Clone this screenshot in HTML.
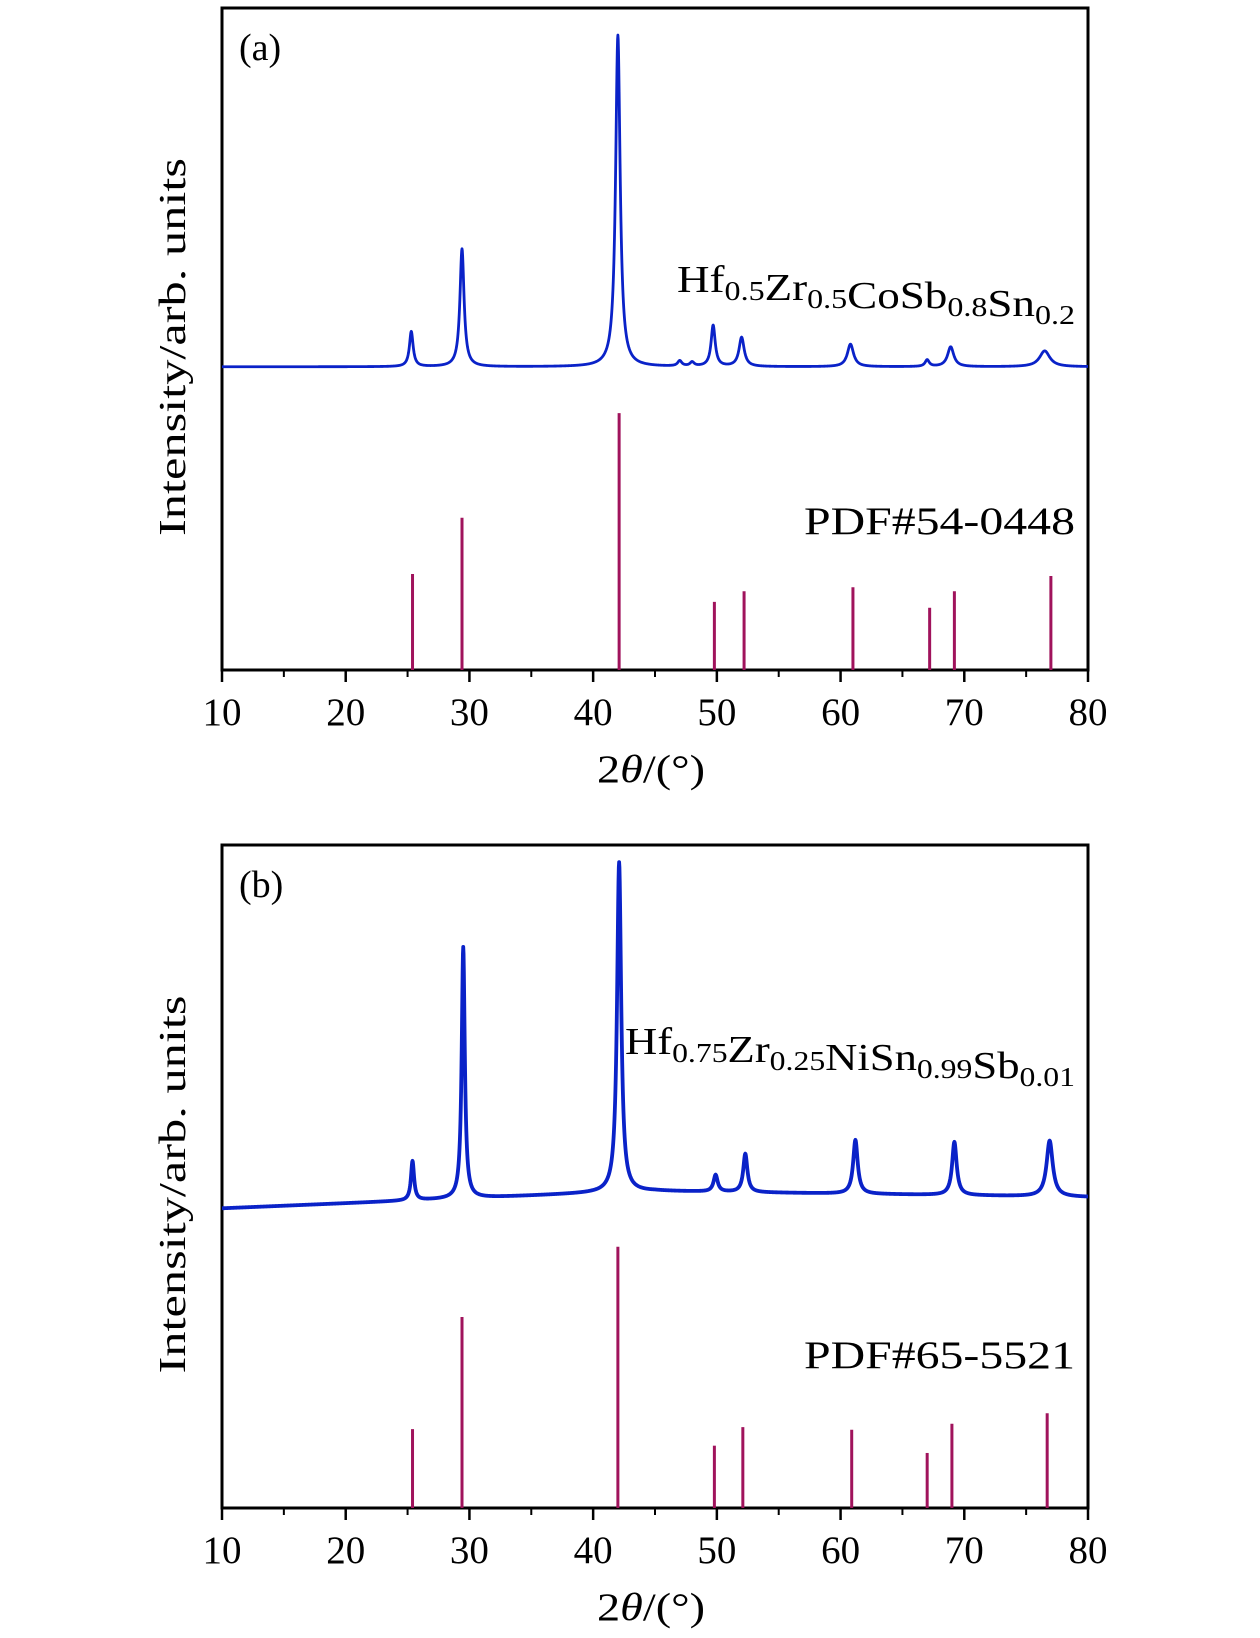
<!DOCTYPE html>
<html><head><meta charset="utf-8"><style>
body{margin:0;background:#fff}
svg{display:block}
text{font-family:"Liberation Serif",serif;fill:#000}
</style></head><body>
<svg id="chart" width="1260" height="1638" viewBox="0 0 1260 1638" xmlns="http://www.w3.org/2000/svg"></svg>
<script>
// Panel (a) data
const peakPosA = [25.3, 29.4, 42.0, 47.0, 48.0, 49.7, 52.0, 60.8, 67.0, 68.9, 76.5];
const peakTopA = [51.1, 63.6, 95.9, 46.6, 46.4, 52.0, 50.2, 49.2, 46.8, 48.8, 48.2];
const peakWidA = [0.18, 0.2, 0.22, 0.2, 0.2, 0.2, 0.25, 0.3, 0.2, 0.3, 0.5];
const baseA = [45.8, 45.8];
const stickPosA = [25.4, 29.4, 42.1, 49.8, 52.2, 61.0, 67.2, 69.2, 77.0];
const stickValA = [14.5, 23.0, 38.8, 10.3, 11.9, 12.5, 9.4, 11.9, 14.2];
// Panel (b) data
const peakPosB = [25.4, 29.5, 42.1, 49.9, 52.3, 61.2, 69.2, 76.9];
const peakTopB = [52.3, 84.6, 97.4, 50.2, 53.4, 55.5, 55.2, 55.4];
const peakWidB = [0.15, 0.15, 0.2, 0.2, 0.2, 0.22, 0.22, 0.3];
const baseXB = [10, 40, 45, 80];
const baseYB = [45.2, 47.5, 47.8, 46.9];
const stickPosB = [25.4, 29.4, 42.0, 49.8, 52.1, 60.9, 67.0, 69.0, 76.7];
const stickValB = [11.9, 28.8, 39.4, 9.4, 12.2, 11.8, 8.3, 12.7, 14.3];
const xTicks = [10, 20, 30, 40, 50, 60, 70, 80];
const minorTicks = [15, 25, 35, 45, 55, 65, 75];

const NS = "http://www.w3.org/2000/svg";
const svg = document.getElementById('chart');
function mk(tag, attrs, parent) {
  const e = document.createElementNS(NS, tag);
  for (const k in attrs) e.setAttribute(k, attrs[k]);
  (parent || svg).appendChild(e);
  return e;
}
const X0 = 222, X1 = 1088;
function xs(v) { return X0 + (v - 10) / 70 * (X1 - X0); }

function panel(cfg) {
  const g = mk('g', {});
  
  
  const top = cfg.top, bot = cfg.bot;
  const ys = v => bot - v / 100 * (bot - top);
  const fr = mk('rect', {x: X0, y: top, width: X1 - X0, height: bot - top, fill: 'none', stroke: '#000', 'stroke-width': 3}, g);
  
  
  xTicks.forEach(t => {
    const l = mk('line', {x1: xs(t), x2: xs(t), y1: bot, y2: bot + 12, stroke: '#000', 'stroke-width': 2.5}, g);
    
    
    const tx = mk('text', {x: xs(t), y: bot + 55, 'text-anchor': 'middle', 'font-size': 39}, g);
    tx.textContent = t;
    
    
  });
  minorTicks.forEach(t => {
    const l = mk('line', {x1: xs(t), x2: xs(t), y1: bot, y2: bot + 7, stroke: '#000', 'stroke-width': 2}, g);
    
    
  });
  const xt = mk('text', {x: 651, y: bot + 112, 'text-anchor': 'middle', 'font-size': 39, textLength: 108, lengthAdjust: 'spacingAndGlyphs'}, g);
  xt.innerHTML = '2<tspan font-style="italic">θ</tspan>/(°)';
  
  
  const cy = (top + bot) / 2 + 8;
  const yt = mk('text', {x: 0, y: 0, 'text-anchor': 'middle', 'font-size': 38, textLength: 378, lengthAdjust: 'spacingAndGlyphs', transform: `translate(185,${cy}) rotate(-90)`}, g);
  yt.textContent = 'Intensity/arb. units';
  
  
  const pl = mk('text', {x: 239, y: top + 52, 'font-size': 38}, g);
  pl.textContent = cfg.letter;
  
  
  let d = '';
  for (let i = 0; i <= 2800; i++) {
    const x = 10 + i * 0.025;
    let v = cfg.base(x);
    for (let k = 0; k < cfg.pos.length; k++) {
      const w = cfg.wid[k];
      const dx = (x - cfg.pos[k]) / w;
      v += (cfg.tops[k] - cfg.base(cfg.pos[k])) / (1 + dx * dx);
    }
    d += (i ? 'L' : 'M') + xs(x).toFixed(2) + ',' + ys(v).toFixed(2);
  }
  const cv = mk('path', {d: d, fill: 'none', stroke: '#0a22c8', 'stroke-width': cfg.sw, 'stroke-linejoin': 'round'}, g);
  
  
  cfg.spos.forEach((p, k) => {
    const s = mk('line', {x1: xs(p), x2: xs(p), y1: bot, y2: ys(cfg.sval[k]), stroke: '#a0135c', 'stroke-width': 3}, g);
    
    
  });
  const sl = mk('text', {x: 1075, y: cfg.sampleY, 'text-anchor': 'end', 'font-size': 38, textLength: cfg.sampleW, lengthAdjust: 'spacingAndGlyphs'}, g);
  sl.innerHTML = cfg.sample;
  
  
  const pd = mk('text', {x: 1075, y: cfg.pdfY, 'text-anchor': 'end', 'font-size': 39, textLength: 271, lengthAdjust: 'spacingAndGlyphs'}, g);
  pd.textContent = cfg.pdf;
  
  
}
function interp(xa, ya) {
  return x => {
    if (x <= xa[0]) return ya[0];
    for (let i = 1; i < xa.length; i++) if (x <= xa[i]) return ya[i-1] + (ya[i]-ya[i-1])*(x-xa[i-1])/(xa[i]-xa[i-1]);
    return ya[ya.length-1];
  };
}
const sub = s => `<tspan font-size="27" dy="8">${s}</tspan><tspan dy="-8"></tspan>`;
panel({name: 'panel-a', letter: '(a)', top: 8, bot: 670, pos: peakPosA, tops: peakTopA, wid: peakWidA,
  base: () => baseA[0], sw: 2.8, spos: stickPosA, sval: stickValA,
  sample: 'Hf' + sub('0.5') + 'Zr' + sub('0.5') + 'CoSb' + sub('0.8') + 'Sn' + sub('0.2'), sampleY: 292, sampleW: 398,
  pdf: 'PDF#54-0448', pdfY: 534});
panel({name: 'panel-b', letter: '(b)', top: 845, bot: 1508, pos: peakPosB, tops: peakTopB, wid: peakWidB,
  base: interp(baseXB, baseYB), sw: 3.8, spos: stickPosB, sval: stickValB,
  sample: 'Hf' + sub('0.75') + 'Zr' + sub('0.25') + 'NiSn' + sub('0.99') + 'Sb' + sub('0.01'), sampleY: 1054, sampleW: 450,
  pdf: 'PDF#65-5521', pdfY: 1368});
</script>
</body></html>
